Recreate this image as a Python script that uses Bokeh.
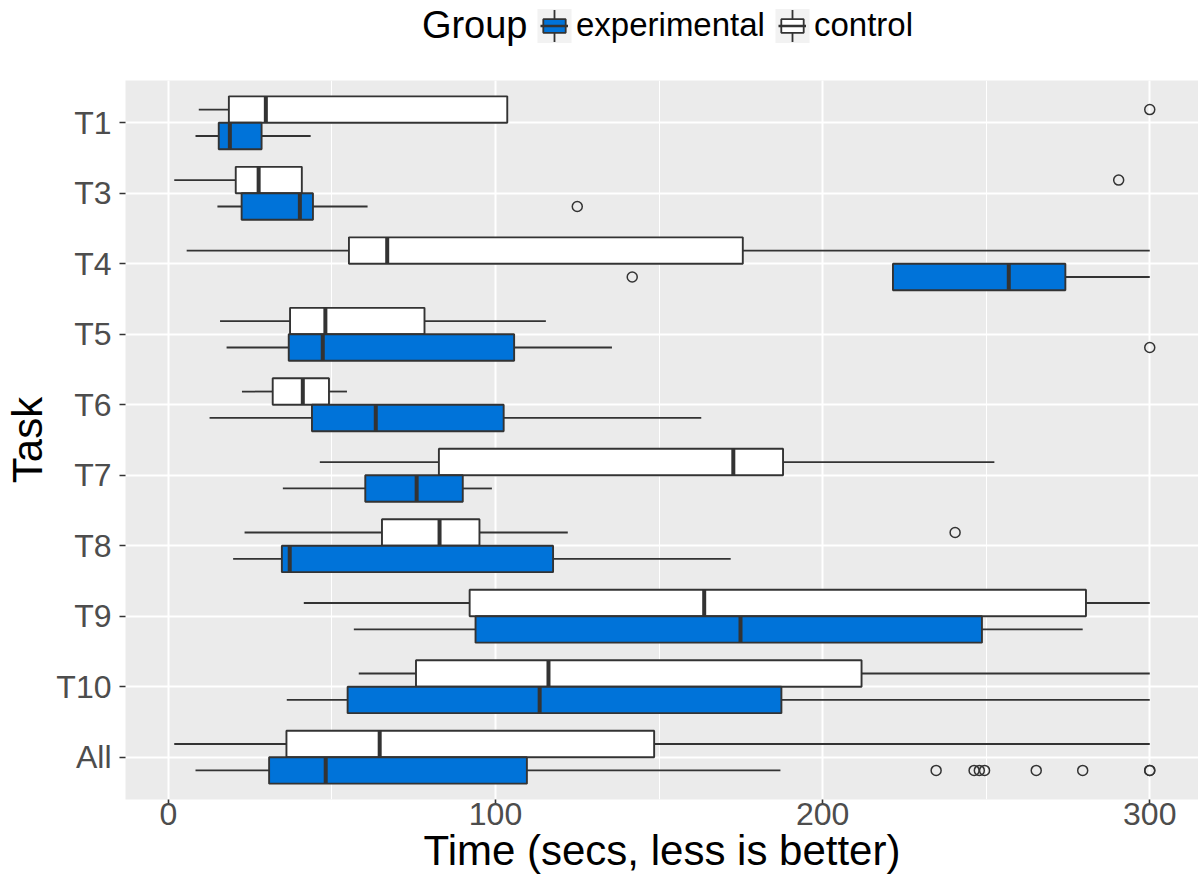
from bokeh.plotting import figure
from bokeh.layouts import column
from bokeh.models import (Range1d, FixedTicker, SingleIntervalTicker, Legend, LegendItem,
                          ColumnDataSource, Label)
from bokeh.embed import file_html
from bokeh.resources import INLINE

tasks = ["T1", "T3", "T4", "T5", "T6", "T7", "T8", "T9", "T10", "All"]
groups = ["experimental", "control"]

# control group box statistics (seconds)
ctl_low = [9.3, 1.8, 5.6, 15.8, 22.5, 46.3, 23.3, 41.4, 58.2, 1.8]
ctl_q1 = [18.5, 20.6, 55.2, 37.2, 31.9, 82.7, 65.3, 92.1, 75.7, 36.1]
ctl_med = [29.8, 27.6, 66.9, 48.0, 41.1, 172.7, 82.9, 163.8, 116.2, 64.6]
ctl_q3 = [103.6, 40.8, 175.6, 78.3, 49.1, 187.9, 95.1, 280.5, 211.9, 148.5]
ctl_high = [103.6, 40.8, 300.0, 115.4, 54.6, 252.5, 122.1, 300.0, 300.0, 300.0]

# experimental group box statistics (seconds)
exp_low = [8.3, 15.0, 221.5, 17.8, 12.6, 35.0, 19.8, 56.7, 36.2, 8.3]
exp_q1 = [15.4, 22.4, 221.5, 36.8, 43.9, 60.2, 34.7, 93.9, 54.8, 30.8]
exp_med = [18.8, 40.2, 256.9, 47.2, 63.4, 75.9, 37.1, 174.9, 113.5, 48.1]
exp_q3 = [28.5, 44.2, 274.2, 105.7, 102.5, 90.0, 117.6, 248.7, 187.4, 109.6]
exp_high = [43.5, 60.9, 300.0, 135.6, 162.9, 98.9, 171.9, 279.5, 300.0, 187.1]

# outliers
ctl_out_task = ["T1", "T3", "T8"]
ctl_out_val = [300.0, 290.5, 240.5]
exp_out_task = ["T3", "T4", "T5", "All", "All", "All", "All", "All", "All", "All", "All"]
exp_out_val = [125.0, 141.8, 300.0, 234.7, 246.3, 247.9, 249.5, 265.3, 279.5, 300.0, 300.0]

FONT = "Liberation Sans"
EXP_COLOR = "#0073D9"
LINE = "#333333"
HALF = 0.1875
fills = {"experimental": EXP_COLOR, "control": "white"}

pos = {t: i + 1 for i, t in enumerate(tasks)}

# ---------------- main panel ----------------
p = figure(width=1198, height=804, output_backend="svg", toolbar_location=None,
           x_range=Range1d(-13.1, 314.9), y_range=Range1d(10.6, 0.4),
           min_border_left=125, min_border_right=0, min_border_top=0, min_border_bottom=85)
p.background_fill_color = "#EBEBEB"
p.border_fill_color = "white"
p.outline_line_color = None


def draw(low, q1, med, q3, high, offset, fill):
    c = [pos[t] + offset for t in tasks]
    src = ColumnDataSource(dict(c=c, top=[v - HALF for v in c], bot=[v + HALF for v in c],
                                low=low, q1=q1, med=med, q3=q3, high=high))
    p.segment(x0="low", x1="q1", y0="c", y1="c", source=src, line_color=LINE, line_width=1.8)
    p.segment(x0="q3", x1="high", y0="c", y1="c", source=src, line_color=LINE, line_width=1.8)
    p.quad(left="q1", right="q3", top="top", bottom="bot", source=src,
           fill_color=fill, line_color=LINE, line_width=1.9)
    p.segment(x0="med", x1="med", y0="top", y1="bot", source=src, line_color=LINE, line_width=4)


draw(ctl_low, ctl_q1, ctl_med, ctl_q3, ctl_high, -HALF, fills["control"])
draw(exp_low, exp_q1, exp_med, exp_q3, exp_high, HALF, fills["experimental"])

p.scatter(x=ctl_out_val, y=[pos[t] - HALF for t in ctl_out_task], size=10,
          fill_color=None, line_color=LINE, line_width=1.5)
p.scatter(x=exp_out_val, y=[pos[t] + HALF for t in exp_out_task], size=10,
          fill_color=None, line_color=LINE, line_width=1.5)

# axes
p.xaxis.ticker = SingleIntervalTicker(interval=100, num_minor_ticks=2)
p.yaxis.ticker = FixedTicker(ticks=list(range(1, len(tasks) + 1)))
p.yaxis.major_label_overrides = {i + 1: t for i, t in enumerate(tasks)}
p.xaxis.axis_label = "Time (secs, less is better)"
p.yaxis.axis_label = "Task"
for ax in (p.xaxis, p.yaxis):
    ax.axis_line_color = None
    ax.major_tick_line_color = LINE
    ax.major_tick_line_width = 1.6
    ax.major_tick_in = 0
    ax.minor_tick_line_color = None
    ax.major_label_text_font = FONT
    ax.major_label_text_font_size = "32px"
    ax.major_label_text_color = "#4D4D4D"
    ax.axis_label_text_font = FONT
    ax.axis_label_text_font_size = "42px"
    ax.axis_label_text_font_style = "normal"
    ax.axis_label_text_color = "black"
p.xaxis.major_tick_out = 5
p.yaxis.major_tick_out = 6
p.xaxis.major_label_standoff = -2
p.xaxis.axis_label_standoff = -1
p.yaxis.major_label_standoff = 8
p.yaxis.axis_label_standoff = 2

p.xgrid.grid_line_color = "white"
p.xgrid.grid_line_width = 2
p.xgrid.minor_grid_line_color = "white"
p.xgrid.minor_grid_line_width = 1
p.ygrid.grid_line_color = "white"
p.ygrid.grid_line_width = 2

# ---------------- legend strip on top (frame aligned with main panel: x 125..1198) ----------------
top = figure(width=1198, height=80, output_backend="svg", toolbar_location=None,
             x_range=Range1d(125, 1198), y_range=Range1d(80, 0),
             min_border_left=125, min_border_right=0, min_border_top=0, min_border_bottom=0)
top.axis.visible = False
top.grid.visible = False
top.outline_line_color = None
top.background_fill_color = "white"
top.border_fill_color = "white"

# key backgrounds and whisker stubs behind the legend glyphs (layout constants, px)
key_centers = [554, 792]
key_half = 17
key_mid_y = 25.5
top.quad(left=[c - key_half for c in key_centers], right=[c + key_half for c in key_centers],
         top=[key_mid_y - key_half] * 2, bottom=[key_mid_y + key_half] * 2,
         fill_color="#F2F2F2", line_color=None)
top.segment(x0=key_centers, x1=key_centers, y0=[key_mid_y - key_half + 1] * 2,
            y1=[key_mid_y + key_half - 1] * 2, line_color=LINE, line_width=1.8)

items = []
for g in groups:
    # legend-only renderers: one datum placed outside the visible range
    kb = top.quad(left=[0], right=[1], top=[0], bottom=[1], fill_color=fills[g],
                  line_color=LINE, line_width=1.8)
    km = top.segment(x0=[0], x1=[1], y0=[0], y1=[0], line_color=LINE, line_width=2.5)
    items.append(LegendItem(label=g, renderers=[kb, km]))

legend = Legend(items=items, orientation="horizontal", location=(415, 36))
legend.label_text_font = FONT
legend.label_text_font_size = "33px"
legend.label_text_color = "black"
legend.label_standoff = 8
legend.glyph_width = 28
legend.glyph_height = 17
legend.spacing = 13
legend.padding = 0
legend.margin = 0
legend.background_fill_alpha = 0
legend.border_line_color = None
top.add_layout(legend, "center")

top.add_layout(Label(x=527, y=24, text="Group", text_align="right",
                     text_baseline="alphabetic", text_font=FONT,
                     text_font_size="38px", text_color="black"))

layout = column(top, p, spacing=0)
open("out.html", "w").write(file_html(layout, INLINE))
